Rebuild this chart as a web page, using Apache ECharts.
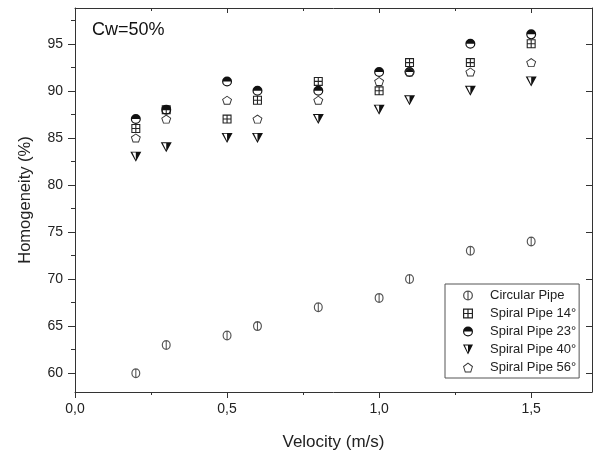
<!DOCTYPE html>
<html>
<head>
<meta charset="utf-8">
<script src="https://cdn.jsdelivr.net/npm/echarts@6/dist/echarts.min.js"></script>
<style>
  html, body { margin: 0; padding: 0; background: #fff; }
  #chart { width: 594px; height: 452px; }
</style>
</head>
<body>
<div id="chart"></div>
<script>
// Flow velocity (m/s) at which homogeneity was measured
const velocity = [0.2, 0.3, 0.5, 0.6, 0.8, 1.0, 1.1, 1.3, 1.5];

// Homogeneity (%) for each pipe geometry, Cw = 50%
const circularPipe = [60, 63, 64, 65, 67, 68, 70, 73, 74];
const spiral14 = [86, 88, 87, 89, 91, 90, 93, 93, 95];
const spiral23 = [87, 88, 91, 90, 90, 92, 92, 95, 96];
const spiral40 = [83, 84, 85, 85, 87, 88, 89, 90, 91];
const spiral56 = [85, 87, 89, 87, 89, 91, 92, 92, 93];

const seriesNames = ['Circular Pipe', 'Spiral Pipe 14°', 'Spiral Pipe 23°', 'Spiral Pipe 40°', 'Spiral Pipe 56°'];

// Tick positions
const xMajor = [0, 0.5, 1.0, 1.5];
const xMinor = [0.25, 0.75, 1.25];
const yMajor = [60, 65, 70, 75, 80, 85, 90, 95];
const yMinor = [62.5, 67.5, 72.5, 77.5, 82.5, 87.5, 92.5, 97.5];

// Marker outlines as filled paths (rings use reversed inner contours)
const SYM_CIRCLE_BAR = 'path://M0 50 A50 50 0 1 1 100 50 A50 50 0 1 1 0 50 Z ' +
  'M13 50 A37 37 0 1 0 87 50 A37 37 0 1 0 13 50 Z M44 0 H56 V100 H44 Z';
const SYM_SQUARE_GRID = 'path://M0 0 H100 V100 H0 Z M12 12 V88 H88 V12 Z ' +
  'M44 0 H56 V100 H44 Z M0 44 H100 V56 H0 Z';
const SYM_HALF_CIRCLE = 'path://M0 50 A50 50 0 0 1 100 50 Z ' +
  'M100 50 A50 50 0 0 1 0 50 L12 50 A38 38 0 0 0 88 50 Z';
const SYM_HALF_TRIANGLE = 'path://M0 0 H100 L50 100 Z M18 9 L50 80 L82 9 Z M50 0 H100 L50 100 Z';
const SYM_PENTAGON = 'path://M50 0 L100 38 L81 100 L19 100 L0 38 Z M50 12 L11 42 L26 90 L74 90 L89 42 Z';

const FONT = "'Liberation Sans', Arial, sans-serif";
const LINE = { color: '#333', width: 1 };

function pairs(ys) {
  return velocity.map((v, i) => [v, ys[i]]);
}

function xAxisDef(position, ticks, length, inside, extra) {
  return Object.assign({
    type: 'value', min: 0, max: 1.7, position: position,
    axisLine: { show: true, onZero: false, lineStyle: LINE },
    axisTick: { show: true, customValues: ticks, length: length, inside: inside, lineStyle: LINE },
    axisLabel: { show: false },
    splitLine: { show: false }
  }, extra || {});
}

function yAxisDef(position, ticks, length, inside, extra) {
  return Object.assign({
    type: 'value', min: 58, max: 98.8, position: position,
    axisLine: { show: true, onZero: false, lineStyle: LINE },
    axisTick: { show: true, customValues: ticks, length: length, inside: inside, lineStyle: LINE },
    axisLabel: { show: false },
    splitLine: { show: false }
  }, extra || {});
}

const chart = echarts.init(document.getElementById('chart'), null, { renderer: 'canvas' });

const symbols = [SYM_CIRCLE_BAR, SYM_SQUARE_GRID, SYM_HALF_CIRCLE, SYM_HALF_TRIANGLE, SYM_PENTAGON];
const sizes = [[9, 10], [9, 9], [10, 10], [11, 10], [10, 9]];
const colors = ['#555', '#222', '#111', '#111', '#333'];
const values = [circularPipe, spiral14, spiral23, spiral40, spiral56];

chart.setOption({
  animation: false,
  backgroundColor: '#fff',
  textStyle: { fontFamily: FONT },
  grid: { left: 75, right: 2, top: 8, bottom: 60, outerBoundsMode: 'none', containLabel: false },
  xAxis: [
    xAxisDef('bottom', xMajor, 6, false, {
      name: 'Velocity (m/s)', nameLocation: 'middle', nameGap: 42,
      nameTextStyle: { fontSize: 17, color: '#222', fontFamily: FONT },
      axisLabel: {
        show: true, customValues: xMajor, margin: 10, fontSize: 14, color: '#222', fontFamily: FONT,
        formatter: v => v.toFixed(1).replace('.', ',')
      }
    }),
    xAxisDef('bottom', xMinor, 3, false, { axisLine: { show: false } }),
    xAxisDef('top', xMajor, 5, true),
    xAxisDef('top', xMinor, 3, true, { axisLine: { show: false } })
  ],
  yAxis: [
    yAxisDef('left', yMajor, 7, false, {
      name: 'Homogeneity (%)', nameLocation: 'middle', nameGap: 41,
      nameTextStyle: { fontSize: 16.5, color: '#222', fontFamily: FONT },
      axisLabel: {
        show: true, customValues: yMajor, margin: 12, fontSize: 14, color: '#222', fontFamily: FONT
      }
    }),
    yAxisDef('left', yMinor, 4, false, { axisLine: { show: false } }),
    yAxisDef('right', yMajor, 6, true),
    yAxisDef('right', yMinor, 3, true, { axisLine: { show: false } })
  ],
  legend: {
    orient: 'vertical',
    left: 445, top: 284,
    data: seriesNames,
    itemWidth: 10, itemHeight: 10, itemGap: 3,
    padding: [4, 3, 3, 18],
    borderColor: '#555', borderWidth: 1,
    textStyle: { fontSize: 13, color: '#222', fontFamily: FONT, lineHeight: 15, padding: [0, 0, 0, 12] }
  },
  graphic: [{
    type: 'text', left: 92, top: 21,
    style: { text: 'Cw=50%', fontSize: 18, fill: '#111', fontFamily: FONT }
  }],
  series: seriesNames.map((name, i) => ({
    name: name,
    type: 'scatter',
    xAxisIndex: 0, yAxisIndex: 0,
    symbol: symbols[i],
    symbolSize: sizes[i],
    symbolKeepAspect: true,
    itemStyle: { color: colors[i], opacity: 1 },
    data: pairs(values[i])
  }))
});
</script>
</body>
</html>
